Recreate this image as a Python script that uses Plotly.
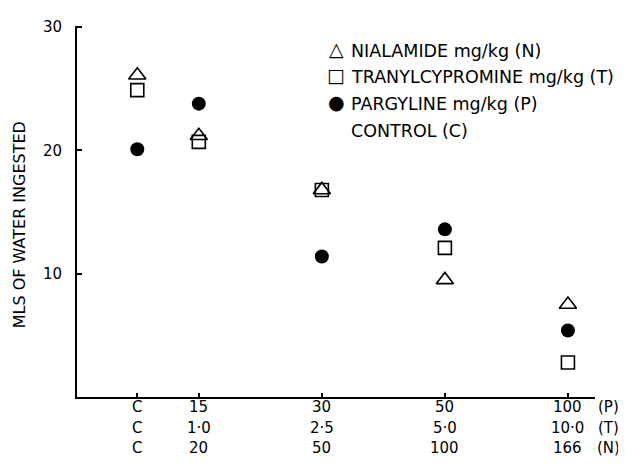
import plotly.graph_objects as go

# ---- data ----
dose_pos = [0, 0.5, 1.5, 2.5, 3.5]          # position of each dose group on the x axis
pargyline_labels = ["C", "15", "30", "50", "100"]
tranyl_labels = ["C", "1\u00b70", "2\u00b75", "5\u00b70", "10\u00b70"]
nialamide_labels = ["C", "20", "50", "100", "166"]
row_suffix = ["(P)", "(T)", "(N)"]

nialamide = [26.1, 21.2, 16.8, 9.5, 7.5]
tranylcypromine = [24.9, 20.7, 16.8, 12.1, 2.8]
pargyline = [20.1, 23.8, 11.4, 13.6, 5.4]

y_ticks = [10, 20, 30]
y_title = "MLS OF WATER INGESTED"
legend_names = ["NIALAMIDE mg/kg (N)", "TRANYLCYPROMINE mg/kg (T)",
                "PARGYLINE mg/kg (P)", "CONTROL (C)"]
legend_symbols = ["\u25b3", "\u25a1", "\u25cf", ""]

# ---- layout constants (pixels) ----
OFF = 8  # page body margin of the browser
SW, SH = 626, 467
W, H = SW - OFF, SH - OFF
PL, PR, PT, PB = 77, 595, 19, 397          # plot area in screen pixels
ML, MT = PL - OFF, PT - OFF
MR, MB = W - (PR - OFF), H - (PB - OFF)
PW, PH = PR - PL, PB - PT
FONT = "DejaVu Sans"


def px_x(px):
    return (px - PL) / PW


def px_y(py):
    return (PB - py) / PH


fig = go.Figure()
fig.add_trace(go.Scatter(x=dose_pos, y=nialamide, mode="markers", name=legend_names[0],
                         marker=dict(symbol="triangle-up-open", size=15, color="black",
                                     line=dict(width=1.6, color="black"))))
fig.add_trace(go.Scatter(x=dose_pos, y=tranylcypromine, mode="markers", name=legend_names[1],
                         marker=dict(symbol="square-open", size=13, color="black",
                                     line=dict(width=1.6, color="black"))))
fig.add_trace(go.Scatter(x=dose_pos, y=pargyline, mode="markers", name=legend_names[2],
                         marker=dict(symbol="circle", size=14, color="black")))

annotations = []
# x tick label rows
rows = [pargyline_labels, tranyl_labels, nialamide_labels]
row_shift = [-10, -31, -51]
for r, labels in enumerate(rows):
    for xp, lab in zip(dose_pos, labels):
        annotations.append(dict(x=xp, y=0, xref="x", yref="paper", text=lab,
                                showarrow=False, yanchor="middle", xanchor="center",
                                yshift=row_shift[r], font=dict(family=FONT, size=15, color="black")))
    annotations.append(dict(x=px_x(608), y=0, xref="paper", yref="paper", text=row_suffix[r],
                            showarrow=False, yanchor="middle", xanchor="center",
                            yshift=row_shift[r], font=dict(family=FONT, size=15, color="black")))

# y title
annotations.append(dict(x=px_x(19), y=px_y(222), xref="paper", yref="paper", text=y_title,
                        textangle=-90, showarrow=False, xanchor="center", yanchor="middle",
                        font=dict(family=FONT, size=16, color="black")))

# legend block
leg_y = [44, 71, 98, 126]
for sym, name, py in zip(legend_symbols, legend_names, leg_y):
    if sym:
        annotations.append(dict(x=px_x(336), y=px_y(py), xref="paper", yref="paper", text=sym,
                                showarrow=False, xanchor="center", yanchor="middle", yshift=2,
                                font=dict(family=FONT, size=19, color="black")))
    annotations.append(dict(x=px_x(349), y=px_y(py), xref="paper", yref="paper", text=name,
                            showarrow=False, xanchor="left", yanchor="middle",
                            font=dict(family=FONT, size=17.5, color="black")))

fig.update_layout(
    width=W, height=H,
    margin=dict(l=ML, r=MR, t=MT, b=MB),
    paper_bgcolor="white", plot_bgcolor="white",
    showlegend=False,
    font=dict(family=FONT, size=15, color="black"),
    annotations=annotations,
)
fig.update_xaxes(range=[-0.49, 3.72], showgrid=False, zeroline=False,
                 showline=True, linecolor="black", linewidth=2,
                 tickvals=dose_pos, ticks="inside", ticklen=4, tickwidth=1.5,
                 tickcolor="black", showticklabels=False)
fig.update_yaxes(range=[0, 30.1], showgrid=False, zeroline=False,
                 showline=True, linecolor="black", linewidth=2,
                 tickvals=y_ticks, ticks="inside", ticklen=5, tickwidth=1.5,
                 tickcolor="black", ticklabelstandoff=10,
                 tickfont=dict(family=FONT, size=15, color="black"))

fig.write_html("out.html")
